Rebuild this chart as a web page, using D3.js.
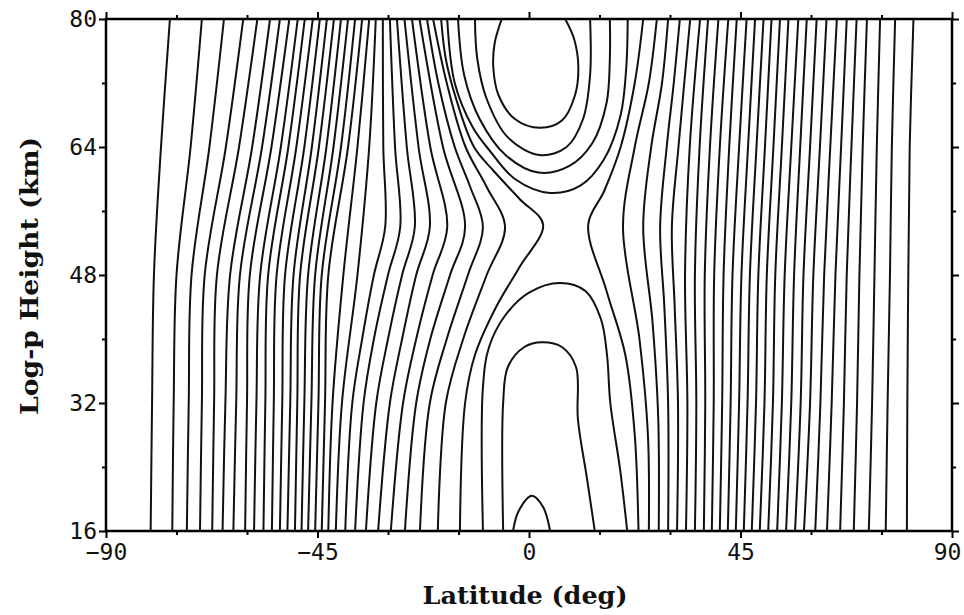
<!DOCTYPE html>
<html><head><meta charset="utf-8">
<script src="https://cdn.jsdelivr.net/npm/d3@7"></script>
<style>body{margin:0;background:#fff}</style>
</head><body>
<svg id="chart" width="964" height="615"></svg>
<script>
// ---- axis ticks ----
const latTicks = [-90, -45, 0, 45, 90];
const latMinorTicks = [-75, -60, -30, -15, 15, 30, 60, 75];
const heightTicks = [16, 32, 48, 64, 80];
const heightMinorTicks = [24, 40, 56, 72];

// ---- contour lines, each a list of [latitude (deg), log-p height (km)] ----
// southern-hemisphere lines, pole -> equator
const southLines = [
  [[-80.5,16],[-80.2,32],[-79.8,48],[-78.3,64],[-76.4,80]],
  [[-75.9,16],[-75.6,32],[-75.0,48],[-72.0,64],[-69.6,80]],
  [[-72.8,16],[-72.4,32],[-71.8,48],[-68.0,64],[-64.9,80]],
  [[-70.0,16],[-69.6,32],[-69.0,48],[-64.5,64],[-60.8,80]],
  [[-67.4,16],[-67.0,32],[-66.4,48],[-61.7,64],[-57.8,80]],
  [[-65.2,16],[-64.6,32],[-63.6,48],[-58.9,64],[-55.1,80]],
  [[-62.9,16],[-62.3,32],[-61.5,48],[-56.8,64],[-53.0,80]],
  [[-60.4,16],[-60.0,32],[-59.4,48],[-54.8,64],[-51.0,80]],
  [[-58.5,16],[-58.0,32],[-57.2,48],[-52.8,64],[-49.2,80]],
  [[-56.5,16],[-56.1,32],[-55.5,48],[-51.2,64],[-47.7,80]],
  [[-54.7,16],[-54.3,32],[-53.7,48],[-49.5,64],[-46.0,80]],
  [[-53.0,16],[-52.5,32],[-51.9,48],[-47.8,64],[-44.5,80]],
  [[-51.4,16],[-50.8,32],[-50.1,48],[-46.2,64],[-43.0,80]],
  [[-49.8,16],[-49.3,32],[-48.7,48],[-44.7,64],[-41.5,80]],
  [[-48.4,16],[-47.8,32],[-47.0,48],[-43.1,64],[-40.0,80]],
  [[-47.0,16],[-46.3,32],[-45.5,48],[-41.6,64],[-38.5,80]],
  [[-45.5,16],[-44.8,32],[-44.1,48],[-40.0,64],[-37.0,80]],
  [[-44.1,16],[-43.4,32],[-42.7,48],[-38.5,64],[-35.5,80]],
  [[-42.7,16],[-41.8,32],[-39.5,48],[-36.5,64],[-34.0,80]],
  [[-41.1,16],[-39.8,32],[-36.5,48],[-34.0,64],[-32.6,80]],
  [[-39.1,16],[-37.6,32],[-35.5,40],[-33.0,48],[-30.6,54],[-31.0,64],[-31.1,80]],
  [[-37.0,16],[-35.2,32],[-33.0,40],[-30.0,48],[-27.4,54],[-28.5,64],[-29.6,80]],
  [[-34.7,16],[-32.5,32],[-30.0,40],[-27.0,48],[-24.3,54],[-26.0,64],[-28.1,80]],
  [[-32.1,16],[-29.6,32],[-27.0,40],[-24.0,48],[-21.1,54],[-23.5,64],[-26.5,80]],
  [[-29.4,16],[-26.8,32],[-24.0,40],[-20.5,48],[-17.4,54],[-21.0,64],[-24.9,80]],
  [[-26.4,16],[-24.0,32],[-21.0,40],[-16.8,48],[-13.6,54],[-18.3,64],[-23.3,80]],
  [[-23.2,16],[-21.1,32],[-17.5,40],[-13.0,48],[-9.8,54],[-12.5,59],[-15.8,64],[-19.3,72],[-21.7,80]],
  [[-19.4,16],[-17.7,32],[-14.0,40],[-9.0,48],[-5.1,54],[-9.0,59],[-13.5,64],[-17.5,72],[-20.4,80]]
];
// arc bounding the saddle on the south side
const saddleSouth = [[-14.7,16],[-13.6,32],[-11.5,38],[-7.0,44],[-2.0,49],[3.0,54.3],[-2.0,57.5],[-7.5,61],[-11.7,64],[-15.5,70],[-17.7,75],[-18.7,80]];
// arc bounding the saddle on the north side
const saddleNorth = [[23.3,16],[22.5,28],[20.5,38],[16.5,46],[12.6,54.3],[16.0,58.5],[19.5,64],[22.5,72],[24.3,80]];
// northern-hemisphere lines, equator -> pole
const northLines = [
  [[25.5,16],[25.3,28],[23.5,40],[20.0,54],[22.5,64],[25.5,72],[27.2,80]],
  [[27.6,16],[27.5,30],[26.3,42],[24.3,54],[26.0,64],[28.3,72],[29.6,80]],
  [[29.6,16],[29.6,32],[28.8,44],[27.9,54],[29.3,64],[30.8,72],[32.1,80]],
  [[31.5,16],[31.7,32],[31.0,44],[30.4,54],[31.8,64],[34.3,80]],
  [[33.4,16],[33.7,32],[33.2,48],[34.2,64],[36.4,80]],
  [[35.3,16],[35.6,32],[35.3,48],[36.3,64],[38.1,80]],
  [[37.2,16],[37.5,32],[37.4,48],[38.5,64],[40.3,80]],
  [[38.9,16],[39.3,32],[39.4,48],[40.6,64],[42.4,80]],
  [[40.6,16],[41.1,32],[41.4,48],[42.6,64],[44.2,80]],
  [[42.3,16],[42.9,32],[43.3,48],[44.7,64],[46.3,80]],
  [[44.0,16],[44.7,32],[45.2,48],[46.6,64],[48.1,80]],
  [[45.7,16],[46.5,32],[47.0,48],[48.4,64],[49.9,80]],
  [[47.4,16],[48.3,32],[48.8,48],[50.2,64],[51.6,80]],
  [[49.1,16],[50.1,32],[50.6,48],[52.0,64],[53.4,80]],
  [[50.9,16],[51.9,32],[52.4,48],[53.8,64],[55.2,80]],
  [[52.8,16],[53.8,32],[54.4,48],[55.8,64],[57.3,80]],
  [[54.7,16],[55.8,32],[56.4,48],[57.7,64],[59.1,80]],
  [[56.6,16],[57.8,32],[58.4,48],[59.8,64],[61.2,80]],
  [[58.5,16],[59.8,32],[60.5,48],[61.9,64],[63.3,80]],
  [[60.9,16],[62.0,32],[62.8,48],[64.1,64],[65.5,80]],
  [[63.4,16],[64.4,32],[65.2,48],[66.4,64],[67.6,80]],
  [[66.2,16],[67.0,32],[67.6,48],[68.6,64],[69.7,80]],
  [[69.1,16],[69.8,32],[70.3,48],[71.0,64],[71.9,80]],
  [[72.3,16],[73.0,32],[73.5,48],[74.0,64],[74.7,80]],
  [[75.9,16],[76.3,32],[76.8,48],[77.2,64],[77.9,80]],
  [[80.4,16],[80.5,32],[80.7,48],[81.0,64],[81.8,80]]
];
// closed contours open to the upper boundary (innermost first)
const upperLoops = [
  [[-5.8,80],[-7.3,77],[-7.6,74],[-6.5,70.5],[-3.0,67.5],[2.3,66.4],[7.0,67.3],[9.8,70.5],[10.5,74],[9.6,77.5],[7.7,80]],
  [[-11.5,80],[-11.0,75],[-9.0,70],[-4.5,65.2],[2.3,63],[8.0,64],[11.5,67.5],[13.0,73],[13.0,80]],
  [[-15.1,80],[-13.8,73],[-10.5,67.5],[-5.0,63],[2.0,60.8],[8.5,61.6],[13.5,64.5],[16.5,69.5],[17.2,75],[17.2,80]],
  [[-17.4,80],[-15.8,72],[-12.0,66.5],[-8.3,63.5],[-3.0,60],[4.5,58.25],[11.0,59.2],[16.0,62.5],[19.5,68],[20.7,74],[21.0,80]]
];
// closed contours open to the lower boundary (innermost first)
const lowerLoops = [
  [[-3.4,16],[-2.2,18.5],[0.6,20.4],[3.0,19],[4.5,16]],
  [[-5.5,16],[-5.5,32],[-4.5,36.5],[-1.0,39],[2.8,39.6],[7.0,39],[10.0,36.5],[10.4,30],[12.3,22.7],[14.0,16]],
  [[-9.8,16],[-9.8,34],[-8.5,39],[-5.0,43],[0.0,45.8],[6.6,47],[12.0,46],[15.3,42.5],[16.6,38],[17.3,32],[19.4,23.6],[20.9,16]]
];

// ---- drawing ----
const svg = d3.select('#chart');
const margin = {left: 106, right: 12, top: 19, bottom: 84};
const W = 964, H = 615;
const x = d3.scaleLinear().domain([-90, 90]).range([margin.left, W - margin.right]);
const y = d3.scaleLinear().domain([16, 80]).range([H - margin.bottom, margin.top]);

svg.append('defs').append('clipPath').attr('id', 'plotclip')
  .append('rect').attr('x', x(-90)).attr('y', y(80))
  .attr('width', x(90) - x(-90)).attr('height', y(16) - y(80));

const line = d3.line().x(d => x(d[0])).y(d => y(d[1])).curve(d3.curveCatmullRom.alpha(0.5));
const allContours = [].concat(southLines, [saddleSouth, saddleNorth], northLines, upperLoops, lowerLoops);

svg.append('g').attr('clip-path', 'url(#plotclip)')
  .selectAll('path').data(allContours).join('path')
  .attr('d', line).attr('fill', 'none').attr('stroke', '#111')
  .attr('stroke-width', 2).attr('stroke-linejoin', 'round');

const tickFont = '"DejaVu Sans Mono", monospace';
function styleAxis(g, showLabels) {
  g.select('.domain').remove();
  g.selectAll('line').attr('stroke', '#000').attr('stroke-width', 2);
  g.selectAll('text').attr('font-family', tickFont).attr('font-size', 23).attr('fill', '#111');
  if (!showLabels) g.selectAll('text').remove();
}
// major ticks
svg.append('g').attr('transform', `translate(0,${y(16)})`)
  .call(d3.axisBottom(x).tickValues(latTicks).tickSize(7).tickPadding(6).tickFormat(d3.format('d')))
  .call(g => styleAxis(g, true))
  .call(g => g.selectAll('text').filter(d => d === 90).attr('dx', -5));
svg.append('g').attr('transform', `translate(0,${y(80)})`)
  .call(d3.axisTop(x).tickValues(latTicks).tickSize(7)).call(g => styleAxis(g, false));
svg.append('g').attr('transform', `translate(${x(-90)},0)`)
  .call(d3.axisLeft(y).tickValues(heightTicks).tickSize(7).tickPadding(2).tickFormat(d3.format('d')))
  .call(g => styleAxis(g, true));
svg.append('g').attr('transform', `translate(${x(90)},0)`)
  .call(d3.axisRight(y).tickValues(heightTicks).tickSize(7)).call(g => styleAxis(g, false));
// minor ticks
svg.append('g').attr('transform', `translate(0,${y(16)})`)
  .call(d3.axisBottom(x).tickValues(latMinorTicks).tickSize(4).tickFormat('')).call(g => styleAxis(g, false));
svg.append('g').attr('transform', `translate(0,${y(80)})`)
  .call(d3.axisTop(x).tickValues(latMinorTicks).tickSize(4).tickFormat('')).call(g => styleAxis(g, false));
svg.append('g').attr('transform', `translate(${x(-90)},0)`)
  .call(d3.axisLeft(y).tickValues(heightMinorTicks).tickSize(4).tickFormat('')).call(g => styleAxis(g, false));
svg.append('g').attr('transform', `translate(${x(90)},0)`)
  .call(d3.axisRight(y).tickValues(heightMinorTicks).tickSize(4).tickFormat('')).call(g => styleAxis(g, false));

// frame
svg.append('rect').attr('x', x(-90)).attr('y', y(80))
  .attr('width', x(90) - x(-90)).attr('height', y(16) - y(80))
  .attr('fill', 'none').attr('stroke', '#000').attr('stroke-width', 2.5);

// titles
const titleFont = '"DejaVu Serif", serif';
svg.append('text').attr('x', 525).attr('y', 604).attr('text-anchor', 'middle')
  .attr('font-family', titleFont).attr('font-weight', 'bold').attr('font-size', 25)
  .attr('textLength', 205).attr('lengthAdjust', 'spacingAndGlyphs').attr('fill', '#111')
  .text('Latitude (deg)');
svg.append('text').attr('transform', 'translate(38,276) rotate(-90)').attr('text-anchor', 'middle')
  .attr('font-family', titleFont).attr('font-weight', 'bold').attr('font-size', 25)
  .attr('textLength', 278).attr('lengthAdjust', 'spacingAndGlyphs').attr('fill', '#111')
  .text('Log-p Height (km)');
</script>
</body></html>
